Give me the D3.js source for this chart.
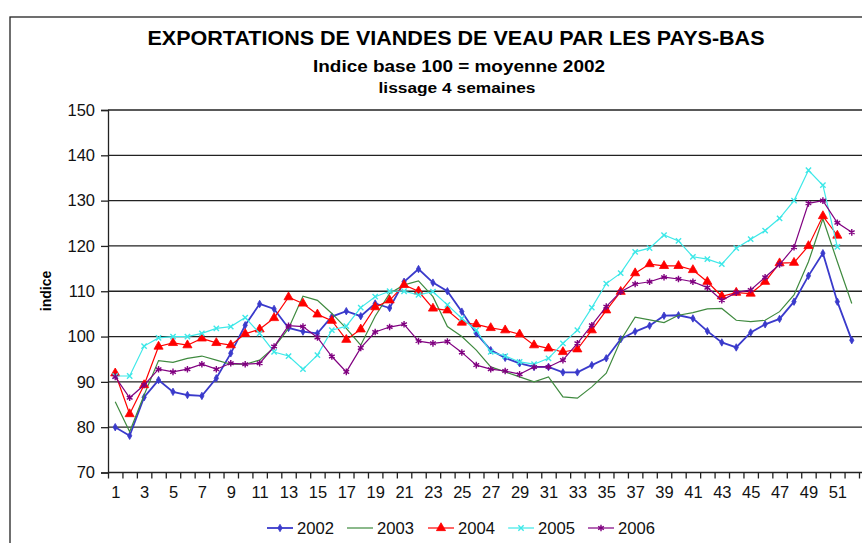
<!DOCTYPE html>
<html>
<head>
<meta charset="utf-8">
<script src="https://cdn.jsdelivr.net/npm/d3@7"></script>
<style>
  body { margin: 0; background: #fff; }
  svg { font-family: "Liberation Sans", Arial, sans-serif; }
</style>
</head>
<body>
<svg width="862" height="543"></svg>
<script>
// weeks 1..52
const weeks = d3.range(1, 53);
const years = ["2002", "2003", "2004", "2005", "2006"];
const yTicks = [70, 80, 90, 100, 110, 120, 130, 140, 150];

const v2002 = [80, 78.1, 86.6, 90.4, 87.8, 87.1, 86.9, 90.8, 96.3, 102.5, 107.2, 106.1, 101.9, 101.1, 100.7, 104.4, 105.6, 104.5, 107.3, 106.3, 112.1, 114.9, 111.9, 110, 105.5, 100.7, 97, 95.3, 94.1, 93.3, 93.3, 92.1, 92.1, 93.7, 95.2, 99.4, 101.1, 102.4, 104.6, 104.7, 104, 101.2, 98.7, 97.6, 100.9, 102.7, 103.9, 107.7, 113.4, 118.4, 107.7, 99.2];
const v2003 = [85.6, 79, 87.1, 94.7, 94.3, 95.2, 95.7, 94.8, 93.9, 93.9, 94.8, 97.6, 101.8, 108.9, 108, 105.1, 101.8, 98.1, 104.5, 109.5, 111.4, 112.3, 108.8, 102.2, 100, 97, 93.3, 92.2, 91.1, 90, 91.1, 86.7, 86.4, 88.9, 91.9, 99.2, 104.3, 103.7, 103.1, 104.7, 105.3, 106.1, 106.2, 103.6, 103.3, 103.6, 105.5, 109.2, 116.5, 126, 116.5, 107.3];
const v2004 = [91.9, 82.9, 89.3, 97.8, 98.6, 98.1, 99.6, 98.6, 98.1, 100.6, 101.6, 104.1, 108.7, 107.3, 104.9, 103.5, 99.3, 101.6, 106.5, 108, 111.4, 110, 106.2, 105.8, 103.1, 102.7, 101.9, 101.4, 100.5, 98.1, 97.4, 96.6, 97.2, 101.4, 105.8, 109.9, 114, 116, 115.6, 115.6, 114.7, 112.1, 108.9, 109.7, 109.5, 112.1, 116.2, 116.3, 120, 126.6, 122.3, null];
const v2005 = [91.3, 91.3, 97.9, 99.7, 100, 100, 100.7, 101.8, 102.2, 104.2, 100.7, 96.6, 95.7, 92.8, 95.9, 101.4, 102.3, 106.4, 108.8, 110, 110, 109.2, 109.9, 107, 104, 101.4, 96.6, 95.7, 94.4, 93.9, 95.2, 98.5, 101.4, 106.4, 111.7, 114, 118.7, 119.5, 122.4, 121.1, 117.6, 117.1, 116, 119.5, 121.5, 123.4, 126.1, 130, 136.7, 133.4, 119.8, null];
const v2006 = [91.1, 86.5, 89.3, 92.8, 92.2, 92.8, 93.9, 92.8, 94.1, 93.9, 94.1, 97.8, 102.4, 102.2, 99.8, 95.6, 92.2, 97.5, 101, 102.1, 102.7, 99, 98.5, 98.9, 96.5, 93.7, 92.8, 92.4, 91.7, 93.3, 93.3, 94.8, 98.5, 102.5, 106.6, 109.9, 111.6, 112.1, 113.1, 112.7, 112.1, 110.8, 108, 109.7, 110.3, 113.1, 115.9, 119.7, 129.4, 130, 125.1, 123];

const values = [v2002, v2003, v2004, v2005, v2006];
const colors = ["#3a3acb", "#3f8a3f", "#ff0000", "#3ee8e8", "#800080"];
const symbols = [d3.symbolDiamond, null, d3.symbolTriangle, d3.symbolTimes, d3.symbolAsterisk];
const symSizes = [16, 0, 36, 20, 30];
const widths = [1.8, 1.2, 1.2, 1.2, 1.2];

const svg = d3.select("svg");

// frame
svg.append("rect")
    .attr("x", 10).attr("y", 17).attr("width", 900).attr("height", 600)
    .attr("fill", "none").attr("stroke", "#222").attr("stroke-width", 1.3);

// titles (stretched to the width they take in the original)
svg.append("text").attr("x", 456).attr("y", 45).attr("text-anchor", "middle")
    .attr("font-size", 20).attr("font-weight", "bold")
    .attr("textLength", 617).attr("lengthAdjust", "spacingAndGlyphs")
    .text("EXPORTATIONS DE VIANDES DE VEAU PAR LES PAYS-BAS");
svg.append("text").attr("x", 459).attr("y", 72).attr("text-anchor", "middle")
    .attr("font-size", 16.5).attr("font-weight", "bold")
    .attr("textLength", 292).attr("lengthAdjust", "spacingAndGlyphs")
    .text("Indice base 100 = moyenne 2002");
svg.append("text").attr("x", 457).attr("y", 93).attr("text-anchor", "middle")
    .attr("font-size", 14.5).attr("font-weight", "bold")
    .attr("textLength", 157).attr("lengthAdjust", "spacingAndGlyphs")
    .text("lissage 4 semaines");

// scales
const xScale = d3.scaleLinear().domain([0.5, 52.5]).range([108, 859]);
const yScale = d3.scaleLinear().domain([70, 150]).range([472.5, 110]);

// gridlines
svg.append("g").selectAll("line")
    .data(yTicks.slice(1))
    .enter().append("line")
    .attr("x1", xScale(0.5)).attr("x2", 862)
    .attr("y1", d => yScale(d)).attr("y2", d => yScale(d))
    .attr("stroke", "#222").attr("stroke-width", 1.3);

// y axis
const yAxis = svg.append("g")
    .attr("transform", "translate(" + xScale(0.5) + ",0)")
    .call(d3.axisLeft(yScale).tickValues(yTicks).tickSize(7).tickPadding(6));
yAxis.selectAll("text").attr("font-size", 16.5).attr("fill", "#111")
    .attr("font-family", "Liberation Sans, Arial, sans-serif");
yAxis.selectAll("line, path").attr("stroke", "#222").attr("stroke-width", 1.3);

// x axis: ticks between categories, labels on odd weeks
const xTicks = svg.append("g")
    .attr("transform", "translate(0," + yScale(70) + ")")
    .call(d3.axisBottom(xScale)
        .tickValues(d3.range(0.5, 53, 1))
        .tickFormat("")
        .tickSize(6)
        .tickSizeOuter(0));
xTicks.selectAll("line, path").attr("stroke", "#222").attr("stroke-width", 1.3);
xTicks.select("path").attr("d", "M" + xScale(0.5) + ",0H862");

const xLabels = svg.append("g")
    .attr("transform", "translate(0," + yScale(70) + ")")
    .call(d3.axisBottom(xScale)
        .tickValues(weeks.filter(w => w % 2 === 1))
        .tickFormat(d3.format("d"))
        .tickSize(0)
        .tickPadding(14));
xLabels.select("path").remove();
xLabels.selectAll("text").attr("font-size", 16.5).attr("fill", "#111")
    .attr("font-family", "Liberation Sans, Arial, sans-serif");

// y axis title
svg.append("text")
    .attr("transform", "translate(51,291) rotate(-90)")
    .attr("text-anchor", "middle")
    .attr("font-size", 14).attr("font-weight", "bold")
    .text("indice");

// series
const line = d3.line()
    .defined(d => d.y != null)
    .x(d => xScale(d.x))
    .y(d => yScale(d.y));

function drawMarker(sel, i) {
    const sym = symbols[i];
    if (!sym) return;
    const strokeOnly = (sym === d3.symbolTimes || sym === d3.symbolAsterisk);
    sel.append("path")
        .attr("d", d3.symbol().type(sym).size(symSizes[i]))
        .attr("fill", strokeOnly ? "none" : colors[i])
        .attr("stroke", colors[i])
        .attr("stroke-width", strokeOnly ? 1.4 : 0.8);
}

years.forEach((yr, i) => {
    const data = weeks.map((w, j) => ({ x: w, y: values[i][j] }));
    const g = svg.append("g");
    g.append("path")
        .datum(data)
        .attr("fill", "none")
        .attr("stroke", colors[i])
        .attr("stroke-width", widths[i])
        .attr("d", line);
    g.selectAll("g.pt")
        .data(data.filter(d => d.y != null))
        .enter().append("g")
        .attr("class", "pt")
        .attr("transform", d => "translate(" + xScale(d.x) + "," + yScale(d.y) + ")")
        .each(function () { drawMarker(d3.select(this), i); });
});

// legend
const legendX = [267, 347, 428, 508, 588];
const legend = svg.append("g").attr("transform", "translate(0,528)");
years.forEach((yr, i) => {
    const g = legend.append("g").attr("transform", "translate(" + legendX[i] + ",0)");
    g.append("line").attr("x1", 0).attr("x2", 26).attr("y1", 0).attr("y2", 0)
        .attr("stroke", colors[i]).attr("stroke-width", widths[i]);
    const m = g.append("g").attr("transform", "translate(13,0)");
    drawMarker(m, i);
    g.append("text").attr("x", 30).attr("y", 6)
        .attr("font-size", 16.5).attr("fill", "#111")
        .attr("textLength", 37).attr("lengthAdjust", "spacingAndGlyphs")
        .text(yr);
});
</script>
</body>
</html>
